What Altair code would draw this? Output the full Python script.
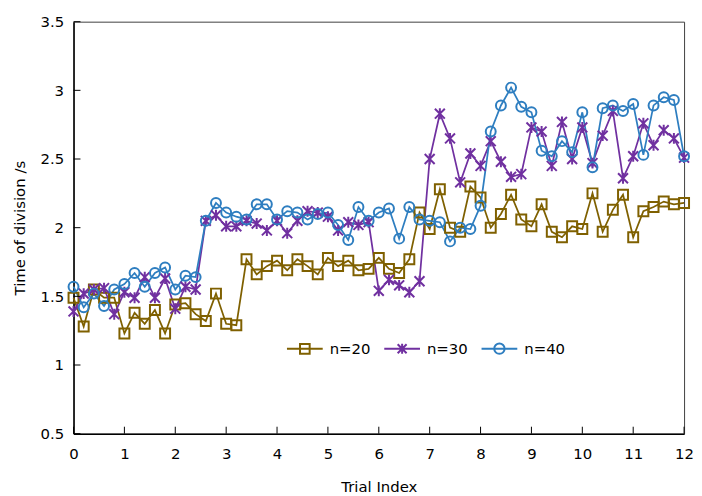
import altair as alt
import pandas as pd

trial = [0.0, 0.2, 0.4, 0.6, 0.8, 1.0, 1.2, 1.4, 1.6, 1.8, 2.0, 2.2, 2.4, 2.6, 2.8,
         3.0, 3.2, 3.4, 3.6, 3.8, 4.0, 4.2, 4.4, 4.6, 4.8, 5.0, 5.2, 5.4, 5.6, 5.8,
         6.0, 6.2, 6.4, 6.6, 6.8, 7.0, 7.2, 7.4, 7.6, 7.8, 8.0, 8.2, 8.4, 8.6, 8.8,
         9.0, 9.2, 9.4, 9.6, 9.8, 10.0, 10.2, 10.4, 10.6, 10.8, 11.0, 11.2, 11.4,
         11.6, 11.8, 12.0]

n20 = [1.49, 1.28, 1.55, 1.49, 1.49, 1.23, 1.38, 1.30, 1.40, 1.23, 1.44, 1.45, 1.37,
       1.32, 1.52, 1.30, 1.29,
       1.77, 1.66, 1.72, 1.76, 1.69, 1.77, 1.72, 1.66, 1.78, 1.72, 1.76, 1.69, 1.70,
       1.78, 1.70, 1.67, 1.77,
       2.11, 1.99, 2.28, 2.00, 1.97, 2.30, 2.22, 2.00, 2.10, 2.24, 2.06, 2.01, 2.17,
       1.97, 1.93, 2.01, 1.99, 2.25, 1.97, 2.13, 2.24, 1.93, 2.12, 2.15, 2.19, 2.17, 2.18]

n30 = [1.39, 1.52, 1.55, 1.56, 1.37, 1.53, 1.49, 1.64, 1.49, 1.63, 1.41, 1.57, 1.55,
       2.05, 2.09, 2.01, 2.01,
       2.05, 2.03, 1.98, 2.05, 1.96, 2.05, 2.12, 2.11, 2.08, 1.98, 2.04, 2.02, 2.04,
       1.54, 1.62, 1.58, 1.53, 1.61,
       2.50, 2.83, 2.65, 2.33, 2.54, 2.45, 2.63, 2.48, 2.37, 2.39, 2.73,
       2.70, 2.45, 2.77, 2.50, 2.73, 2.47, 2.67, 2.85, 2.36, 2.52, 2.76, 2.60, 2.71, 2.65, 2.51]

n40 = [1.57, 1.42, 1.52, 1.43, 1.55, 1.59, 1.67, 1.57, 1.67, 1.71, 1.55, 1.65, 1.64,
       2.05, 2.18, 2.11, 2.08,
       2.06, 2.17, 2.17, 2.06, 2.12, 2.11, 2.06, 2.10, 2.11, 2.02, 1.91, 2.15, 2.05, 2.11,
       2.14, 1.92, 2.15, 2.06, 2.05, 2.04, 1.90, 2.00, 1.99, 2.16, 2.70, 2.89, 3.02, 2.88, 2.84,
       2.56, 2.52, 2.63, 2.55, 2.84, 2.44, 2.87, 2.89, 2.85, 2.90, 2.53, 2.89, 2.95, 2.93, 2.52]

series_names = ["n=20", "n=30", "n=40"]
series_colors = ["#7F6000", "#7030A0", "#2E7EC0"]
y_ticks = [0.5, 1.0, 1.5, 2.0, 2.5, 3.0, 3.5]
x_ticks = [0, 1, 2, 3, 4, 5, 6, 7, 8, 9, 10, 11, 12]

# marker shapes (unit paths, -1..1 spans sqrt(size))
marker_paths = {
    "n=20": "M-1,-1H1V1H-1Z",
    "n=30": "M-1,-1L1,1M-1,1L1,-1M0,-1.1V1.1",
    "n=40": "circle",
}
legend_paths = [
    "M-1,0H1M-0.27,-0.27H0.27V0.27H-0.27Z",
    "M-1,0H1M-0.25,-0.25L0.25,0.25M-0.25,0.25L0.25,-0.25M0,-0.28V0.28",
    "M-1,0H1M0.29,0A0.29,0.29,0,1,1,-0.29,0A0.29,0.29,0,1,1,0.29,0",
]

rows = []
for name, vals in zip(series_names, [n20, n30, n40]):
    for xv, yv in zip(trial, vals):
        rows.append({"trial": xv, "time": yv, "series": name})
df = pd.DataFrame(rows)

W, H = 615, 415
FONT = "DejaVu Sans"

xscale = alt.Scale(domain=[0, 12], nice=False, zero=False)
yscale = alt.Scale(domain=[0.5, 3.5], nice=False, zero=False)
cscale = alt.Scale(domain=series_names, range=series_colors)

X = alt.X("trial:Q", scale=xscale, title="Trial Index",
          axis=alt.Axis(values=x_ticks, format="d", ticks=False, grid=False,
                        labelFlush=False, labelOverlap=False,
                        labelPadding=13, titlePadding=18))
Y = alt.Y("time:Q", scale=yscale, title="Time of division /s",
          axis=alt.Axis(values=y_ticks, format="~g", ticks=False, grid=False,
                        labelFlush=False, labelOverlap=False,
                        labelPadding=10, titlePadding=13))

base = alt.Chart(df)

lines = base.mark_line(strokeWidth=1.75).encode(
    x=X, y=Y,
    color=alt.Color("series:N", scale=cscale, title=None),
    detail="series:N",
)

point_layers = []
for name, col in zip(series_names, series_colors):
    point_layers.append(
        base.transform_filter(alt.datum.series == name)
        .mark_point(shape=marker_paths[name], filled=False, size=100,
                    strokeWidth=2, color=col, opacity=1)
        .encode(x="trial:Q", y="time:Q")
    )

legend_layer = base.transform_filter("datum.time < -100").mark_point(
    filled=False, strokeWidth=2, opacity=1
).encode(
    x="trial:Q", y="time:Q",
    color=alt.Color("series:N", scale=cscale, title=None,
                    legend=alt.Legend(orient="none", legendX=214, legendY=310,
                                      direction="horizontal", columns=3,
                                      symbolSize=1296, symbolStrokeWidth=2,
                                      labelFont=FONT, labelFontSize=15,
                                      labelColor="#000000", labelOffset=6,
                                      columnPadding=9, padding=0)),
    shape=alt.Shape("series:N", title=None,
                    scale=alt.Scale(domain=series_names, range=legend_paths)),
)

ytick_df = pd.DataFrame({"v": y_ticks})
xtick_df = pd.DataFrame({"v": x_ticks})
yticks = alt.Chart(ytick_df).mark_rule(color="black", strokeWidth=1).encode(
    y=alt.Y("v:Q", scale=yscale), x=alt.value(0), x2=alt.value(7))
xticks = alt.Chart(xtick_df).mark_rule(color="black", strokeWidth=1).encode(
    x=alt.X("v:Q", scale=xscale), y=alt.value(H), y2=alt.value(H - 7))

chart = alt.layer(lines, *point_layers, legend_layer, yticks, xticks).properties(
    width=W, height=H,
    background="white",
    autosize=alt.AutoSizeParams(type="none"),
    padding={"left": 66, "top": 12, "right": 10, "bottom": 60},
).configure_view(
    stroke="#404040", strokeWidth=1
).configure_axis(
    labelFont=FONT, labelFontSize=15, labelColor="#000000",
    titleFont=FONT, titleFontSize=15, titleFontWeight="normal", titleColor="#000000",
    domainColor="#000000", domainWidth=1.5,
)

chart.save("out.html", embed_options={"renderer": "svg", "actions": False})
